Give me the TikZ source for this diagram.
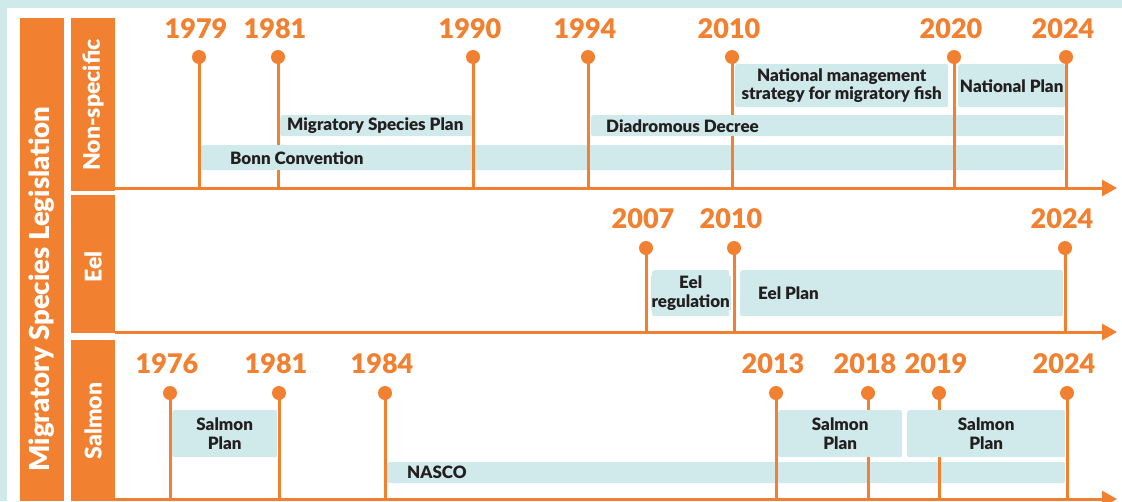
\documentclass[tikz,border=0pt]{standalone}
\usepackage{fontspec}
\setmainfont{Lato}[BoldFont={Lato Black}]
\usetikzlibrary{arrows.meta}
\definecolor{orng}{HTML}{F18030}
\definecolor{barblue}{HTML}{D0E9EA}
\definecolor{ink}{HTML}{231F20}
\begin{document}
\begin{tikzpicture}[x=1pt,y=-1pt,
  sidelabel/.style={text=white, font=\bfseries\fontsize{23}{26}\selectfont, rotate=90, inner sep=0pt},
  year/.style={text=orng, font=\bfseries\fontsize{27}{29}\selectfont, inner sep=0pt},
  pinhead/.style={circle, fill=orng, inner sep=0pt, minimum size=14pt},
  stem/.style={draw=orng, line width=3pt},
  axis/.style={draw=orng, line width=3pt, -{Triangle[length=15pt,width=16pt]}},
  bar/.style={fill=barblue, rounded corners=2pt, anchor=north west, inner sep=0pt},
  label/.style={fill=barblue, inner ysep=0pt, inner xsep=1pt, text=ink,
    font=\bfseries\fontsize{17}{18.5}\selectfont, align=center},
]
\useasboundingbox (0,0) rectangle (1122,501);
% frame
\fill[barblue] (0,0) rectangle (1122,501);
\fill[white] (7,8) rectangle (1122,501);

% category bands
\fill[orng] (20,18) rectangle (64,501);
\fill[orng] (71,18) rectangle (115,191);
\fill[orng] (71,195) rectangle (115,333);
\fill[orng] (71,340) rectangle (115,501);
\node[sidelabel, font=\bfseries\fontsize{27.5}{30}\selectfont] (legis) at (42,289) {Migratory Species Legislation};
\node[sidelabel] (nonspec) at (93,105) {Non-specific};
\node[sidelabel] (eel) at (93,267) {Eel};
\node[sidelabel] (salmon) at (93,421) {Salmon};

% period bars
\node[bar, minimum width=863pt, minimum height=25pt] (bonn) at (201,145) {};
\node[bar, minimum width=192pt, minimum height=21pt] (msp) at (280,115) {};
\node[bar, minimum width=473pt, minimum height=21pt] (diad) at (591,115) {};
\node[bar, minimum width=213pt, minimum height=43pt] (nmsmf) at (735,64) {};
\node[bar, minimum width=107pt, minimum height=43pt] (nplan) at (958,64) {};
\node[bar, minimum width=77pt, minimum height=46pt] (eelreg) at (652,270) {};
\node[bar, minimum width=323pt, minimum height=46pt] (eelplan) at (740,270) {};
\node[bar, minimum width=678pt, minimum height=21pt] (nasco) at (387,462) {};

% axes
\coordinate (ns0) at (115,188); \coordinate (ns1) at (1117,188);
\coordinate (ee0) at (115,332); \coordinate (ee1) at (1117,332);
\coordinate (sa0) at (115,499); \coordinate (sa1) at (1117,499);
\draw[axis] (ns0) -- (ns1);
\draw[axis] (ee0) -- (ee1);
\draw[axis] (sa0) -- (sa1);

% year pins: non-specific
\foreach \n/\x/\t in {a/199/1979, b/278/1981, c/473/1990, d/588/1994, e/732/2010, f/954/2020, g/1066/2024} {
  \node[year] (ny\n) at (\x-3,29) {\t};
  \node[pinhead] (nh\n) at (\x,57) {};
  \coordinate (nf\n) at (\x,188);
  \draw[stem] (nh\n.center) -- (nf\n);
}
% year pins: eel
\foreach \n/\x/\t in {a/646/2007, b/734/2010, c/1065/2024} {
  \node[year] (ey\n) at (\x-3,218.5) {\t};
  \node[pinhead] (eh\n) at (\x,248) {};
  \coordinate (ef\n) at (\x,332);
  \draw[stem] (eh\n.center) -- (ef\n);
}
% year pins: salmon
\foreach \n/\x/\t in {a/170/1976, b/279/1981, c/385/1984, d/776/2013, e/868/2018, f/939/2019, g/1067/2024} {
  \node[year] (sy\n) at (\x-3,364) {\t};
  \node[pinhead] (sh\n) at (\x,393) {};
  \coordinate (sf\n) at (\x,499);
  \draw[stem] (sh\n.center) -- (sf\n);
}

% bar texts, their backing hides the stems behind them
\node[label, anchor=west, minimum height=25pt] (tbonn) at ([xshift=28pt]bonn.west) {Bonn Convention};
\node[label, anchor=west, minimum height=21pt] (tmsp) at ([xshift=6pt]msp.west) {Migratory Species Plan};
\node[label, anchor=west, minimum height=21pt] (tdiad) at ([xshift=14pt]diad.west) {Diadromous Decree};
\node[label] (tnmsmf) at (nmsmf.center) {National management\\strategy for migratory fish};
\node[label] (tnplan) at (nplan.center) {National Plan};
\node[label] (teelreg) at (eelreg.center) {Eel\\regulation};
\node[label, anchor=west] (teelplan) at ([xshift=17pt]eelplan.west) {Eel Plan};
\node[label, anchor=west, minimum height=21pt] (tnasco) at ([xshift=19pt]nasco.west) {NASCO};

% salmon plans sit over the stems
\node[bar, minimum width=105pt, minimum height=47pt] (sp1) at (172,410) {};
\node[bar, minimum width=124pt, minimum height=47pt] (sp2) at (778,410) {};
\node[bar, minimum width=158pt, minimum height=47pt] (sp3) at (907,410) {};
\node[label] (tsp1) at (sp1.center) {Salmon\\Plan};
\node[label] (tsp2) at (sp2.center) {Salmon\\Plan};
\node[label] (tsp3) at (sp3.center) {Salmon\\Plan};
\end{tikzpicture}
\end{document}
